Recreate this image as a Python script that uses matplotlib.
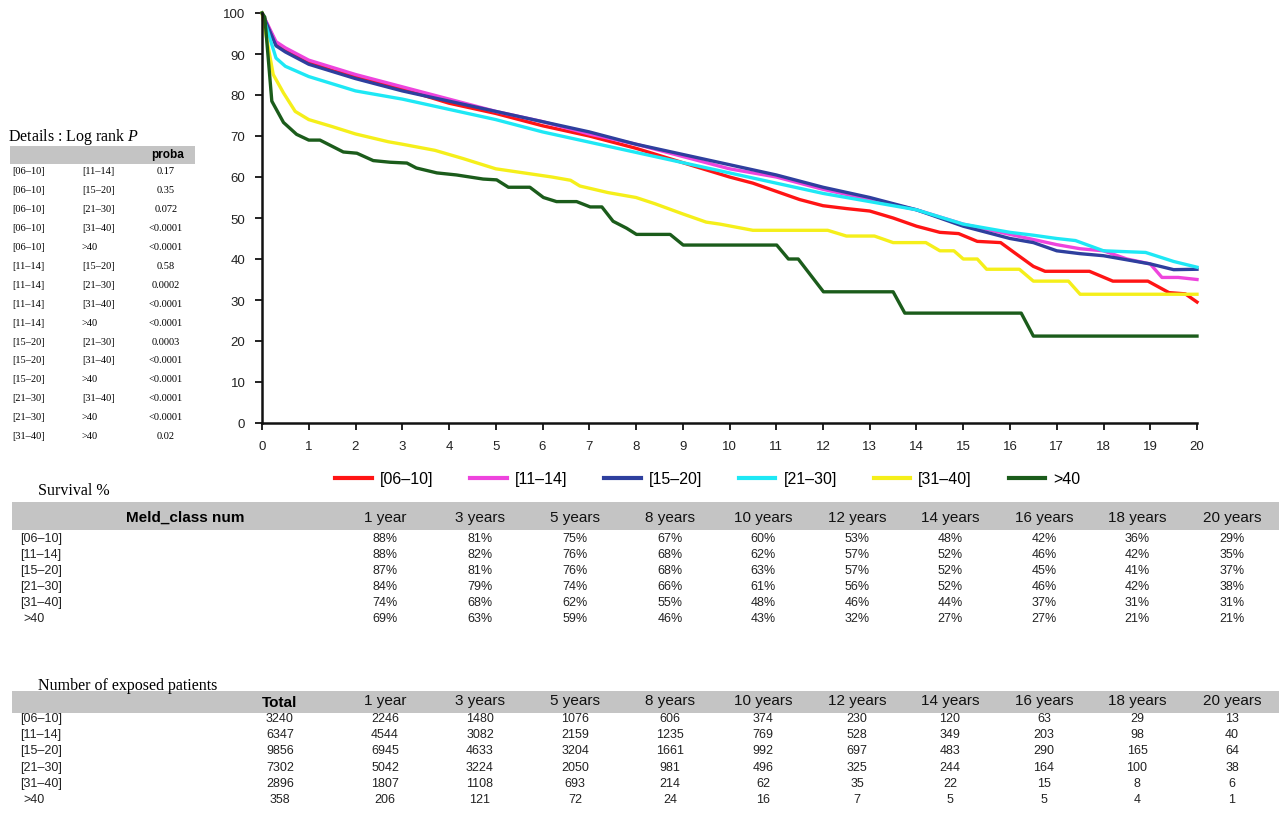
import matplotlib
matplotlib.use('Agg')
import matplotlib.pyplot as plt
from matplotlib.patches import Rectangle
from matplotlib.lines import Line2D

plt.rcParams['mathtext.fontset'] = 'custom'
plt.rcParams['mathtext.it'] = 'Liberation Serif:italic'
plt.rcParams['mathtext.rm'] = 'Liberation Serif'

# ---------------- data ----------------
classes = ['[06–10]', '[11–14]', '[15–20]', '[21–30]', '[31–40]', '>40']
colors = ['#ff1414', '#ee44dd', '#2e3f9e', '#1ee8f5', '#f5ef1a', '#1b5c1b']

t_06_10 = [0, 0.3, 0.5, 1, 1.5, 2, 3, 4, 5, 6, 7, 8, 9, 10, 10.5, 11, 11.5, 12, 12.5, 13, 13.5, 14,
           14.5, 14.9, 15.3, 15.8, 16.1, 16.5, 16.75, 17.7, 18.2, 18.95, 19.4, 19.75, 20]
s_06_10 = [100, 92.5, 91, 88, 86, 84.5, 81.5, 78, 75.5, 72.5, 70, 67, 63.5, 60, 58.5, 56.5, 54.5, 53, 52.3, 51.7, 50, 48,
           46.5, 46.2, 44.3, 44, 41.5, 38.2, 37, 37, 34.6, 34.6, 31.8, 31.5, 29.5]

t_11_14 = [0, 0.3, 0.5, 1, 2, 3, 4, 5, 6, 7, 8, 9, 10, 11, 12, 13, 14, 15, 16, 17, 17.5, 18, 18.5, 19,
           19.25, 19.6, 20]
s_11_14 = [100, 93, 91.5, 88.5, 85, 82, 79, 76, 73.5, 70.5, 68, 65, 62, 60, 57, 54.5, 52, 48.5, 46, 43.5, 42.5, 42, 40, 38.8,
           35.5, 35.5, 35]

t_15_20 = [0, 0.3, 0.5, 1, 2, 3, 4, 5, 6, 7, 8, 9, 10, 11, 12, 13, 14, 15, 16, 16.5, 17, 17.5, 18, 19,
           19.5, 20]
s_15_20 = [100, 92, 90.5, 87.5, 84, 81, 78.5, 76, 73.5, 71, 68, 65.5, 63, 60.5, 57.5, 55, 52, 48, 45, 44, 42, 41.3, 40.8, 38.8,
           37.4, 37.5]

t_21_30 = [0, 0.3, 0.5, 1, 2, 3, 4, 5, 6, 7, 8, 9, 10, 11, 12, 13, 14, 15, 16, 16.5, 17, 17.4, 18, 18.9,
           19.5, 20]
s_21_30 = [100, 89, 87, 84.5, 81, 79, 76.5, 74, 71, 68.5, 66, 63.5, 61, 58.5, 56, 54, 52, 48.5, 46.5, 45.8, 45, 44.5, 42, 41.6,
           39.4, 38]

t_31_40 = [0, 0.24, 0.46, 0.71, 1, 1.5, 2, 2.7, 3, 3.7, 4.3, 5, 5.6, 6.2, 6.6, 6.8, 7.4, 8, 8.4, 9, 9.5, 9.8,
           10.5, 12.1, 12.5, 13.1, 13.5, 14.2, 14.5, 14.8, 15, 15.3, 15.5, 16.2, 16.5, 17.25, 17.5, 20]
s_31_40 = [100, 85, 80.5, 76, 74, 72.3, 70.5, 68.6, 68, 66.5, 64.5, 62, 61, 60, 59.2, 57.8, 56.2, 55, 53.5, 51, 49, 48.5,
           47, 47, 45.6, 45.6, 44, 44, 42, 42, 40, 40, 37.5, 37.5, 34.6, 34.6, 31.4, 31.4]

t_gt40 = [0, 0.06, 0.21, 0.46, 0.74, 1, 1.24, 1.74, 2.03, 2.38, 2.74, 3.1, 3.3, 3.74, 4.16, 4.73, 5.02, 5.27,
          5.73, 6.02, 6.3, 6.73, 7.02, 7.27, 7.51, 7.8, 8.01, 8.73, 9.01, 11.01, 11.26, 11.47, 12.01, 13.5, 13.75,
          16.24, 16.5, 20]
s_gt40 = [100, 99, 78.5, 73.3, 70.4, 69, 69, 66.1, 65.8, 64, 63.6, 63.4, 62.2, 61, 60.5, 59.5, 59.3, 57.5,
          57.5, 55, 54, 54, 52.7, 52.7, 49.2, 47.5, 46, 46, 43.4, 43.4, 40, 40, 32, 32, 26.8,
          26.8, 21.2, 21.2]

times = [t_06_10, t_11_14, t_15_20, t_21_30, t_31_40, t_gt40]
survs = [s_06_10, s_11_14, s_15_20, s_21_30, s_31_40, s_gt40]

x_ticks = list(range(0, 21))
y_ticks = list(range(0, 101, 10))

# log-rank table
pair_a = ['[06–10]'] * 5 + ['[11–14]'] * 4 + ['[15–20]'] * 3 + ['[21–30]'] * 2 + ['[31–40]']
pair_b = ['[11–14]', '[15–20]', '[21–30]', '[31–40]', '>40', '[15–20]', '[21–30]', '[31–40]', '>40',
          '[21–30]', '[31–40]', '>40', '[31–40]', '>40', '>40']
proba = ['0.17', '0.35', '0.072', '<0.0001', '<0.0001', '0.58', '0.0002', '<0.0001', '<0.0001',
         '0.0003', '<0.0001', '<0.0001', '<0.0001', '<0.0001', '0.02']

# survival table
years_hdr = ['1 year', '3 years', '5 years', '8 years', '10 years', '12 years', '14 years',
             '16 years', '18 years', '20 years']
surv_06_10 = [88, 81, 75, 67, 60, 53, 48, 42, 36, 29]
surv_11_14 = [88, 82, 76, 68, 62, 57, 52, 46, 42, 35]
surv_15_20 = [87, 81, 76, 68, 63, 57, 52, 45, 41, 37]
surv_21_30 = [84, 79, 74, 66, 61, 56, 52, 46, 42, 38]
surv_31_40 = [74, 68, 62, 55, 48, 46, 44, 37, 31, 31]
surv_gt40 = [69, 63, 59, 46, 43, 32, 27, 27, 21, 21]
surv_rows = [surv_06_10, surv_11_14, surv_15_20, surv_21_30, surv_31_40, surv_gt40]

# exposed patients
total = [3240, 6347, 9856, 7302, 2896, 358]
exp_06_10 = [2246, 1480, 1076, 606, 374, 230, 120, 63, 29, 13]
exp_11_14 = [4544, 3082, 2159, 1235, 769, 528, 349, 203, 98, 40]
exp_15_20 = [6945, 4633, 3204, 1661, 992, 697, 483, 290, 165, 64]
exp_21_30 = [5042, 3224, 2050, 981, 496, 325, 244, 164, 100, 38]
exp_31_40 = [1807, 1108, 693, 214, 62, 35, 22, 15, 8, 6]
exp_gt40 = [206, 121, 72, 24, 16, 7, 5, 5, 4, 1]
exp_rows = [exp_06_10, exp_11_14, exp_15_20, exp_21_30, exp_31_40, exp_gt40]

# ---------------- figure ----------------
W, H = 1279, 820
fig = plt.figure(figsize=(W / 100, H / 100), dpi=100)
SANS = ['Liberation Sans', 'DejaVu Sans']
SERIF = ['Liberation Serif', 'DejaVu Serif']


def fx(x):
    return x / W


def fy(y):
    return 1 - y / H


def ftext(x, y, s, **kw):
    kw.setdefault('va', 'center')
    fig.text(fx(x), fy(y), s, **kw)


def gray_bar(x0, x1, y0, y1):
    fig.add_artist(Rectangle((fx(x0), fy(y1)), fx(x1) - fx(x0), fy(y0) - fy(y1),
                             transform=fig.transFigure, color='#c4c4c4', lw=0, zorder=0))


ax = fig.add_axes([fx(262), fy(424), fx(1197) - fx(262), fy(14) - fy(424)])
for t, s, c in zip(times, survs, colors):
    ax.plot(t, s, color=c, lw=2.4, solid_joinstyle='round', clip_on=False)
ax.set_xlim(0, 20)
ax.set_ylim(0, 100)
ax.set_xticks(x_ticks)
ax.set_yticks(y_ticks)
for sp in ['top', 'right']:
    ax.spines[sp].set_visible(False)
for sp in ['left', 'bottom']:
    ax.spines[sp].set_linewidth(1.8)
    ax.spines[sp].set_color('#111111')
ax.tick_params(direction='out', length=5, width=1.3, colors='#111111', labelsize=9.5, pad=7)
for lab in ax.get_xticklabels() + ax.get_yticklabels():
    lab.set_fontfamily(SANS)
    lab.set_color('#222222')

# legend
handles = [Line2D([0], [0], color=c, lw=3) for c in colors]
fig.legend(handles, classes, loc='center left', bbox_to_anchor=(fx(335), fy(480)), ncol=6,
           frameon=False, prop={'family': SANS, 'size': 11.5}, handlelength=2.3,
           handletextpad=0.5, columnspacing=2.3, borderaxespad=0, borderpad=0)

# log rank table
ftext(8, 137, 'Details : Log rank $P$', family=SERIF, size=11.5, ha='left')
gray_bar(10, 195, 147, 165)
ftext(168, 155, 'proba', family=SANS, size=8.5, weight='bold', ha='center')
for i, (a, b, p) in enumerate(zip(pair_a, pair_b, proba)):
    y = 172 + 18.9 * i
    ftext(12, y, a, family=SERIF, size=7.5, ha='left')
    ftext(82, y, b, family=SERIF, size=7.5, ha='left')
    ftext(166, y, p, family=SERIF, size=7.5, ha='center')

# survival table
col_x = [385, 480, 575, 670, 763, 857, 950, 1044, 1137, 1232]
ftext(38, 491, 'Survival %', family=SERIF, size=11.5, ha='left')
gray_bar(12, 1279, 503, 531)
ftext(185, 518, 'Meld_class num', family=SANS, size=11, weight='bold', ha='center')
for x, h in zip(col_x, years_hdr):
    ftext(x, 518, h, family=SANS, size=11, ha='center', color='#111111')
for i, (cl, row) in enumerate(zip(classes, surv_rows)):
    y = 539 + 16 * i
    ftext(20 if cl != '>40' else 23, y, cl, family=SANS, size=9, ha='left', color='#222222')
    for x, v in zip(col_x, row):
        ftext(x, y, f'{v}%', family=SANS, size=9, ha='center', color='#222222')

# exposed patients table
ftext(38, 686, 'Number of exposed patients', family=SERIF, size=11.5, ha='left')
gray_bar(12, 1279, 692, 714)
ftext(280, 703, 'Total', family=SANS, size=11, weight='bold', ha='center')
for x, h in zip(col_x, years_hdr):
    ftext(x, 701, h, family=SANS, size=11, ha='center', color='#111111')
for i, (cl, tot, row) in enumerate(zip(classes, total, exp_rows)):
    y = 719 + 16.2 * i
    ftext(20 if cl != '>40' else 23, y, cl, family=SANS, size=9, ha='left', color='#222222')
    ftext(280, y, str(tot), family=SANS, size=9, ha='center', color='#222222')
    for x, v in zip(col_x, row):
        ftext(x, y, str(v), family=SANS, size=9, ha='center', color='#222222')

fig.savefig('out.png', dpi=100, facecolor='white')
